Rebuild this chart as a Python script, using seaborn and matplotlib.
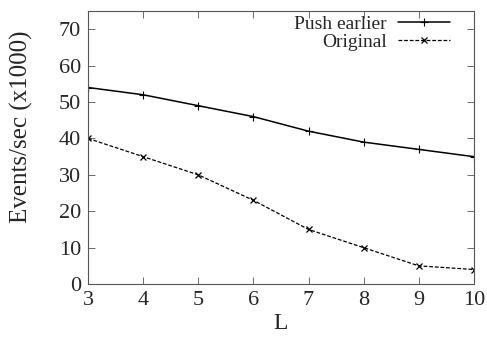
import numpy as np
import pandas as pd
import matplotlib
matplotlib.use("Agg")
import matplotlib.pyplot as plt
import seaborn as sns

# data
L = [3, 4, 5, 6, 7, 8, 9, 10]
push_earlier = [54, 52, 49, 46, 42, 39, 37, 35]
original = [40, 35, 30, 23, 15, 10, 5, 4]

sns.set_style("ticks")
plt.rcParams['font.family'] = ['Liberation Serif', 'DejaVu Serif']

fig = plt.figure(figsize=(4.87, 3.46), dpi=100)
ax = fig.add_axes([0.181, 0.179, 0.792, 0.789])

df = pd.DataFrame({'L': L, 'Push earlier': push_earlier, 'Original': original})

sns.lineplot(data=df, x='L', y='Push earlier', ax=ax, color='black', lw=1.1,
             marker='+', markersize=6, markeredgewidth=0.8,
             markeredgecolor='black', label='Push earlier')
sns.lineplot(data=df, x='L', y='Original', ax=ax, color='black', lw=0.9,
             linestyle=(0, (3, 1.5)), marker='x', markersize=4.5,
             markeredgewidth=0.9, markeredgecolor='black', label='Original')

ax.set_xlim(3, 10)
ax.set_ylim(0, 75)
ax.set_xticks(L)
ax.set_yticks(np.arange(0, 71, 10))
ax.set_xlabel('L', fontsize=17, labelpad=2)
ax.set_ylabel('Events/sec (x1000)', fontsize=18)
ax.yaxis.set_label_coords(-0.143, 0.575)
ax.tick_params(direction='in', length=5, width=0.6, top=True, right=True,
               labelsize=16, pad=5, color='#555555')
for s in ax.spines.values():
    s.set_color('#555555')
    s.set_linewidth(0.8)

leg = ax.legend(loc='upper right', bbox_to_anchor=(450 / 487, 1 - 15 / 346),
                bbox_transform=fig.transFigure, frameon=False, markerfirst=False,
                handlelength=2.7, fontsize=14, borderaxespad=0, borderpad=0,
                labelspacing=0.05, handletextpad=0.55)
for t in leg.get_texts():
    t.set_ha('right')
leg._legend_box.align = 'right'

fig.savefig('out.png', dpi=100)
